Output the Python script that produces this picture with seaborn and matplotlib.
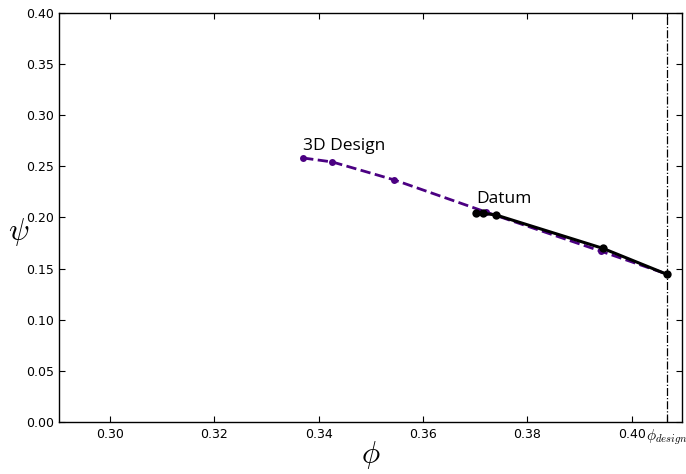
import matplotlib
matplotlib.use("Agg")
import matplotlib.pyplot as plt
import seaborn as sns
import pandas as pd

# Data
design_phi = [0.3370, 0.3426, 0.3545, 0.3720, 0.3940, 0.4067]
design_psi = [0.2582, 0.2543, 0.2367, 0.2054, 0.1672, 0.1447]
datum_phi = [0.3701, 0.3715, 0.3740, 0.3944, 0.4067]
datum_psi = [0.2041, 0.2041, 0.2024, 0.1699, 0.1445]
phi_design = 0.4067
xticks = [0.30, 0.32, 0.34, 0.36, 0.38, 0.40]
yticks = [0.00, 0.05, 0.10, 0.15, 0.20, 0.25, 0.30, 0.35, 0.40]

sns.set_style("ticks")
plt.rcParams.update({
    "xtick.direction": "in", "ytick.direction": "in",
    "xtick.top": True, "ytick.right": True,
    "axes.edgecolor": "black", "axes.linewidth": 1.0,
    "xtick.color": "black", "ytick.color": "black",
    "xtick.labelcolor": "black", "ytick.labelcolor": "black",
    "text.color": "black", "axes.labelcolor": "black",
    "xtick.major.size": 4, "ytick.major.size": 4,
    "mathtext.fontset": "cm",
})
plt.rcParams["font.family"] = ["DejaVu Sans"]

fig = plt.figure(figsize=(6.86, 4.74), dpi=100)
ax = fig.add_axes([0.086, 0.1097, 0.908, 0.8629])

d1 = pd.DataFrame({"phi": design_phi, "psi": design_psi})
d2 = pd.DataFrame({"phi": datum_phi, "psi": datum_psi})

sns.lineplot(data=d1, x="phi", y="psi", ax=ax, color="#4B0082", lw=2.0,
             linestyle="--", marker="o", markersize=5, markeredgewidth=0,
             sort=False, estimator=None)
sns.lineplot(data=d2, x="phi", y="psi", ax=ax, color="black", lw=2.2,
             marker="o", markersize=6, markeredgewidth=0,
             sort=False, estimator=None)
ax.axvline(phi_design, color="black", lw=0.9, linestyle="-.")

ax.text(design_phi[0], design_psi[0] + 0.0035, "3D Design", fontsize=12.5,
        family="Open Sans", ha="left", va="bottom")
ax.text(datum_phi[0], datum_psi[0] + 0.006, "Datum", fontsize=12.5,
        family="Open Sans", ha="left", va="bottom")

ax.set_xlim(0.2902, 0.4096)
ax.set_ylim(0.0, 0.40)
ax.set_xticks(xticks + [phi_design])
ax.set_xticklabels([f"{v:.2f}" for v in xticks] + [r"$\phi_{design}$"], fontsize=9)
ax.get_xticklabels()[-1].set_fontsize(11)
ax.set_yticks(yticks)
ax.set_yticklabels([f"{v:.2f}" for v in yticks], fontsize=9)
ax.tick_params(axis="x", pad=4)
ax.set_xlabel(r"$\phi$", fontsize=22, va="center")
ax.xaxis.set_label_coords(0.5, -0.08)
ax.set_ylabel(r"$\psi$", fontsize=22, rotation=0, va="center", ha="center")
ax.yaxis.set_label_coords(-0.065, 0.465)

fig.savefig("out.png", dpi=100)
